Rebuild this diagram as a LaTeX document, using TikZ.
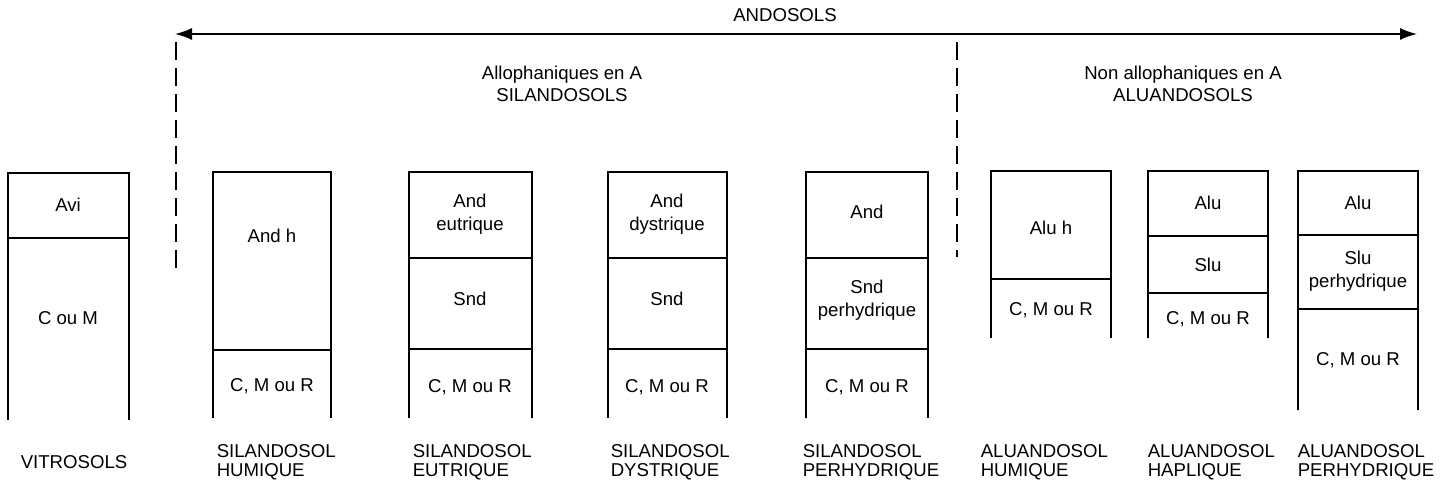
\documentclass[tikz,border=0pt]{standalone}
\usepackage{fontspec}
\setmainfont{Liberation Sans}
\usetikzlibrary{arrows.meta}
\begin{document}
\begin{tikzpicture}[x= 0.5pt, y= -0.5pt, line width= 0.8pt,
	hz/.style= {font= \fontsize{9.3}{11.3}\selectfont, align= center, inner sep= 0pt},
	nom/.style= {font= \fontsize{9.3}{9.7}\selectfont, align= left, anchor= west, inner sep= 0pt},
	tiret/.style= {dash pattern= on 9pt off 4pt},
	fleche/.style= {{Latex[length= 8.5pt, width= 6pt]}-{Latex[length= 8.5pt, width= 6pt]}}]
	\useasboundingbox (0, 0) rectangle (1441, 486);

	\node[hz] (andosols) at (785, 15) {ANDOSOLS}; %titre
	\coordinate (g) at (175, 34);
	\coordinate (d) at (1417, 34);
	\draw[fleche](g)-- (d); %fleche des andosols
	\coordinate (t1h) at (176, 42);
	\coordinate (t1b) at (176, 270);
	\coordinate (t2h) at (957, 42);
	\coordinate (t2b) at (957, 257);
	\draw[tiret](t1h)-- (t1b); %limite gauche
	\draw[tiret](t2h)-- (t2b); %limite silandosols- aluandosols
	\node[hz] (allo) at (562, 84) {Allophaniques en A\\SILANDOSOLS};
	\node[hz] (nonallo) at (1183, 84) {Non allophaniques en A\\ALUANDOSOLS};

	\draw(8, 420)-- (8, 173)-- (129, 173)-- (129, 420); %vitrosol
	\draw(8, 238)-- (129, 238);
	\node[hz] (avi) at (68, 205) {Avi};
	\node[hz] (coum) at (68, 318) {C ou M};
	\node[nom] (vitro) at (20, 462) {VITROSOLS};

	\draw(213, 418)-- (213, 172)-- (331, 172)-- (331, 418); %silandosol humique
	\draw(213, 350)-- (331, 350);
	\node[hz] (andh) at (272, 236) {And h};
	\node[hz] (r2) at (272, 386) {C, M ou R};
	\node[nom] (silhum) at (216, 462) {SILANDOSOL\\HUMIQUE};

	\draw(409, 418)-- (409, 172)-- (532, 172)-- (532, 418); %silandosol eutrique
	\draw(409, 258)-- (532, 258);
	\draw(409, 349)-- (532, 349);
	\node[hz] (and3) at (470, 214) {And\\eutrique};
	\node[hz] (snd3) at (470, 299) {Snd};
	\node[hz] (r3) at (470, 387) {C, M ou R};
	\node[nom] (sileut) at (412, 462) {SILANDOSOL\\EUTRIQUE};

	\draw(608, 418)-- (608, 172)-- (727, 172)-- (727, 418); %silandosol dystrique
	\draw(608, 258)-- (727, 258);
	\draw(608, 349)-- (727, 349);
	\node[hz] (and4) at (667, 214) {And\\dystrique};
	\node[hz] (snd4) at (667, 299) {Snd};
	\node[hz] (r4) at (667, 387) {C, M ou R};
	\node[nom] (sildys) at (610, 462) {SILANDOSOL\\DYSTRIQUE};

	\draw(806, 418)-- (806, 172)-- (928, 172)-- (928, 418); %silandosol perhydrique
	\draw(806, 258)-- (928, 258);
	\draw(806, 349)-- (928, 349);
	\node[hz] (and5) at (867, 212) {And};
	\node[hz] (snd5) at (867, 300) {Snd\\perhydrique};
	\node[hz] (r5) at (867, 387) {C, M ou R};
	\node[nom] (silper) at (802, 462) {SILANDOSOL\\PERHYDRIQUE};

	\draw(991, 338)-- (991, 171)-- (1111, 171)-- (1111, 338); %aluandosol humique
	\draw(991, 279)-- (1111, 279);
	\node[hz] (aluh) at (1051, 228) {Alu h};
	\node[hz] (r6) at (1051, 310) {C, M ou R};
	\node[nom] (aluhum) at (980, 462) {ALUANDOSOL\\HUMIQUE};

	\draw(1148, 338)-- (1148, 171)-- (1268, 171)-- (1268, 338); %aluandosol haplique
	\draw(1148, 236)-- (1268, 236);
	\draw(1148, 293)-- (1268, 293);
	\node[hz] (alu7) at (1208, 203) {Alu};
	\node[hz] (slu7) at (1208, 265) {Slu};
	\node[hz] (r7) at (1208, 319) {C, M ou R};
	\node[nom] (aluhap) at (1147, 462) {ALUANDOSOL\\HAPLIQUE};

	\draw(1298, 410)-- (1298, 171)-- (1418, 171)-- (1418, 410); %aluandosol perhydrique
	\draw(1298, 235)-- (1418, 235);
	\draw(1298, 309)-- (1418, 309);
	\node[hz] (alu8) at (1358, 203) {Alu};
	\node[hz] (slu8) at (1358, 271) {Slu\\perhydrique};
	\node[hz] (r8) at (1358, 360) {C, M ou R};
	\node[nom] (aluper) at (1297, 462) {ALUANDOSOL\\PERHYDRIQUE};
\end{tikzpicture}
\end{document}
